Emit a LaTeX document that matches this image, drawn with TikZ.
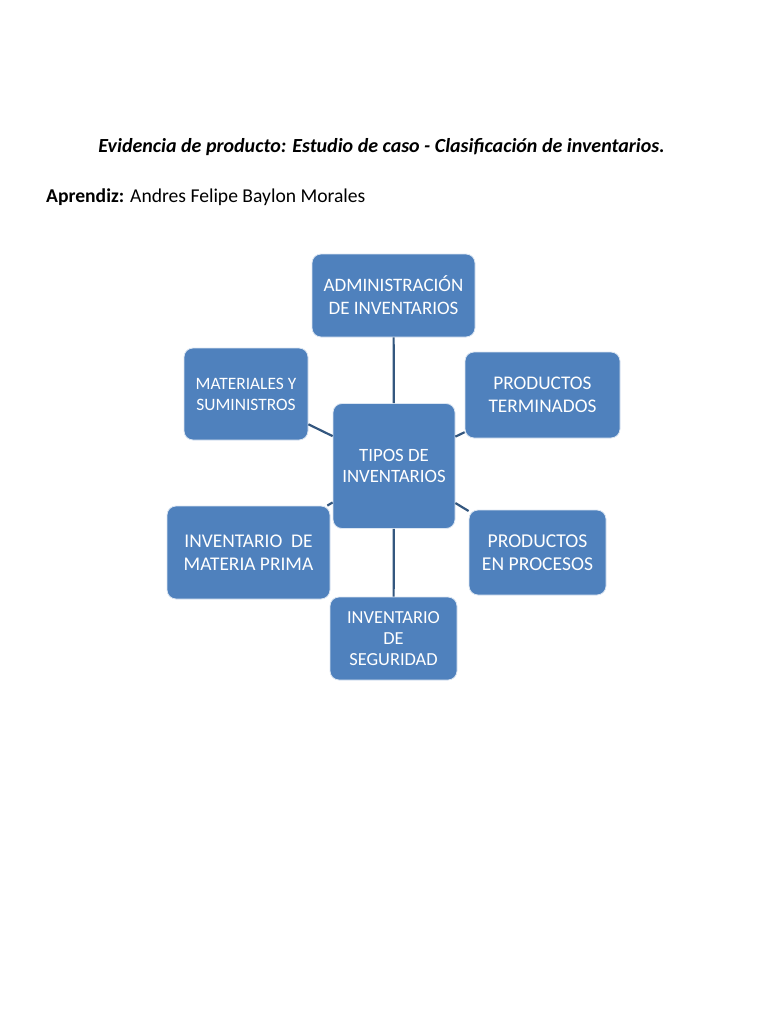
\documentclass[tikz,border=0pt]{standalone}
\usepackage{fontspec}
\setmainfont{Carlito}
\usetikzlibrary{positioning}
\definecolor{boxblue}{HTML}{4F81BD}
\definecolor{boxedge}{HTML}{DCE6F2}
\definecolor{linkblue}{HTML}{34577F}

\begin{document}
\begin{tikzpicture}[
      x=1pt, y=-1pt,
      tipo/.style={rectangle, rounded corners=9pt, fill=boxblue, draw=boxedge,
        line width=0.8pt, text=white, align=center, inner sep=0pt},
      link/.style={draw=linkblue, line width=2.2pt}]
      \useasboundingbox (0,0) rectangle (768,1024);
      % heading lines
      \node[font=\fontsize{20}{24}\selectfont\bfseries\itshape, anchor=base, inner sep=0pt] (titulo) at (381.5,153) {Evidencia de producto: Estudio de caso - Clasificación de inventarios.};
      \node[font=\fontsize{19.6}{24}\selectfont, anchor=base west, inner sep=0pt] (aprendiz) at (46,203) {\textbf{Aprendiz:} Andres Felipe Baylon Morales};
      % the centre and its six branches
      \node[tipo, minimum width=122, minimum height=125, font=\fontsize{18.8}{21}\selectfont] (tipos) at (394,466) {TIPOS DE\\INVENTARIOS};
      \node[tipo, minimum width=163, minimum height=83, font=\fontsize{19}{23}\selectfont] (admin) at (393.5,295.5) {ADMINISTRACIÓN\\DE INVENTARIOS};
      \node[tipo, minimum width=124, minimum height=92, font=\fontsize{17.4}{21}\selectfont] (materiales) at (246,394) {MATERIALES Y\\SUMINISTROS};
      \node[tipo, minimum width=155, minimum height=86, font=\fontsize{19.3}{23}\selectfont] (terminados) at (542.5,395) {PRODUCTOS\\TERMINADOS};
      \node[tipo, minimum width=163, minimum height=93, font=\fontsize{19.4}{23}\selectfont] (prima) at (248.5,552.5) {INVENTARIO~ DE\\MATERIA PRIMA};
      \node[tipo, minimum width=137, minimum height=85, font=\fontsize{19.6}{23}\selectfont] (procesos) at (537.5,552.5) {PRODUCTOS\\EN PROCESOS};
      \node[tipo, minimum width=127, minimum height=83, font=\fontsize{18.4}{21}\selectfont] (seguridad) at (393.5,638.5) {INVENTARIO\\DE\\SEGURIDAD};
      \draw[link] (tipos) -- (admin);
      \draw[link] (tipos) -- (materiales);
      \draw[link] (tipos) -- (terminados);
      \draw[link] (tipos) -- (prima);
      \draw[link] (tipos) -- (procesos);
      \draw[link] (tipos) -- (seguridad);
    \end{tikzpicture}
\end{document}
